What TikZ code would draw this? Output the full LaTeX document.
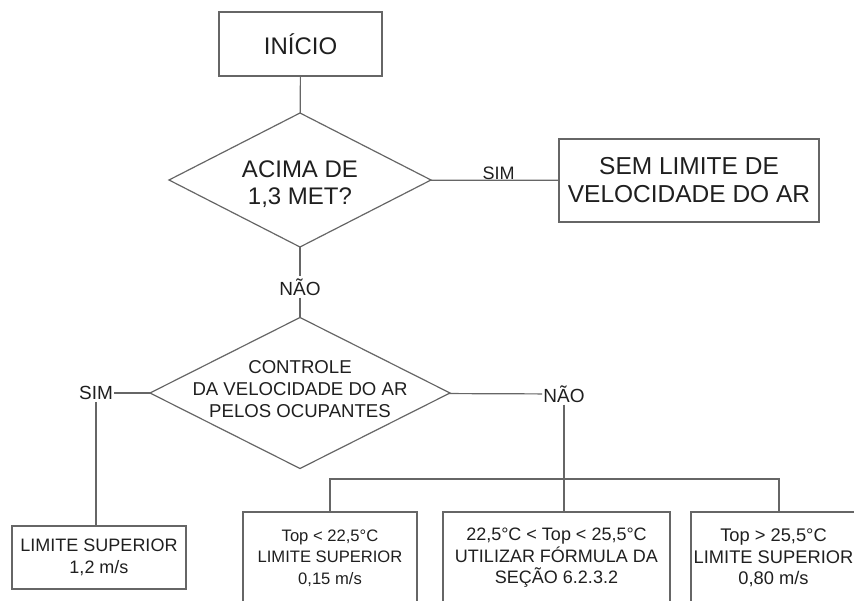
\documentclass[tikz,border=0pt]{standalone}
\usepackage{fontspec}
\setmainfont{Liberation Sans}
\usetikzlibrary{shapes.geometric}

\begin{document}
\begin{tikzpicture}[x=1pt, y=-1pt,
    linha/.style={draw=black!60, line width=1.2pt},
    caixa/.style={linha, rectangle, inner sep=0pt, outer sep=0pt, align=center, text=black!88},
    faixa/.style={caixa, anchor=north, minimum height=92pt},
    decisao/.style={linha, diamond, inner sep=0pt, outer sep=0pt},
    texto/.style={inner sep=0pt, align=center, text=black!88},
    rotulo/.style={inner sep=2pt, text=black!88, font=\fontsize{19}{22}\selectfont}
    ]
    \useasboundingbox (0,0) rectangle (854,601);
    \clip (0,0) rectangle (854,601);

    % Inicio
    \node[caixa, minimum width=163pt, minimum height=64pt,
          font=\fontsize{24}{27}\selectfont] (inicio) at (300.5,44) {INÍCIO};

    % Pergunta 1
    \node[decisao, minimum width=262pt, minimum height=134pt] (met) at (300,180) {};
    \node[texto, font=\fontsize{24}{27}\selectfont] (mettxt) at (300,184) {ACIMA DE\\1,3 MET?};
    \node[caixa, minimum width=260pt, minimum height=83pt,
          font=\fontsize{24.5}{28}\selectfont] (semlim) at (689,180.5) {SEM LIMITE DE\\VELOCIDADE DO AR};
    \node[rotulo] (nao1) at (300,287) {NÃO};

    % Pergunta 2
    \node[decisao, minimum width=300pt, minimum height=151pt] (ctrl) at (300,393) {};
    \node[texto, font=\fontsize{18.6}{21.7}\selectfont] (ctrltxt) at (300,389)
        {CONTROLE\\DA VELOCIDADE DO AR\\PELOS OCUPANTES};
    \node[rotulo, inner xsep=1pt] (sim2) at (96,393) {SIM};
    \node[rotulo, inner xsep=1pt] (nao2) at (564,394) {NÃO};

    % Limites
    \node[caixa, minimum width=174pt, minimum height=63pt,
          font=\fontsize{18}{21.7}\selectfont] (limsim) at (99,557.5) {LIMITE SUPERIOR\\1,2 m/s};
    \node[faixa, minimum width=174pt, font=\fontsize{16.6}{21.5}\selectfont] (faixaA) at (330,512)
        {Top < 22,5°C\\LIMITE SUPERIOR\\0,15 m/s};
    \node[faixa, minimum width=227pt, font=\fontsize{18}{21.5}\selectfont] (faixaB) at (556.5,512)
        {22,5°C < Top < 25,5°C\\UTILIZAR FÓRMULA DA\\SEÇÃO 6.2.3.2};
    \node[faixa, minimum width=165pt, font=\fontsize{18.3}{21.5}\selectfont] (faixaC) at (773.5,512)
        {Top > 25,5°C\\LIMITE SUPERIOR\\0,80 m/s};
    \coordinate (barra) at (564,479);

    % Ligacoes
    \draw[linha] (inicio) -- (met);
    \draw[linha] (met) -- node[above, pos=0.53, inner sep=0pt, text=black!88,
        font=\fontsize{18}{21}\selectfont] (sim1) {SIM} (semlim);
    \draw[linha] (met) -- (nao1);
    \draw[linha] (nao1) -- (ctrl);
    \draw[linha] (ctrl) -- (sim2);
    \draw[linha] (sim2.south) -- (sim2.south |- limsim.north);
    \draw[linha] (ctrl) -- (nao2);
    \draw[linha] (nao2.south) -- (nao2.south |- faixaB.north);
    \draw[linha] (faixaA.north) |- (barra) -| ([xshift=5.5pt]faixaC.north);
\end{tikzpicture}
\end{document}
